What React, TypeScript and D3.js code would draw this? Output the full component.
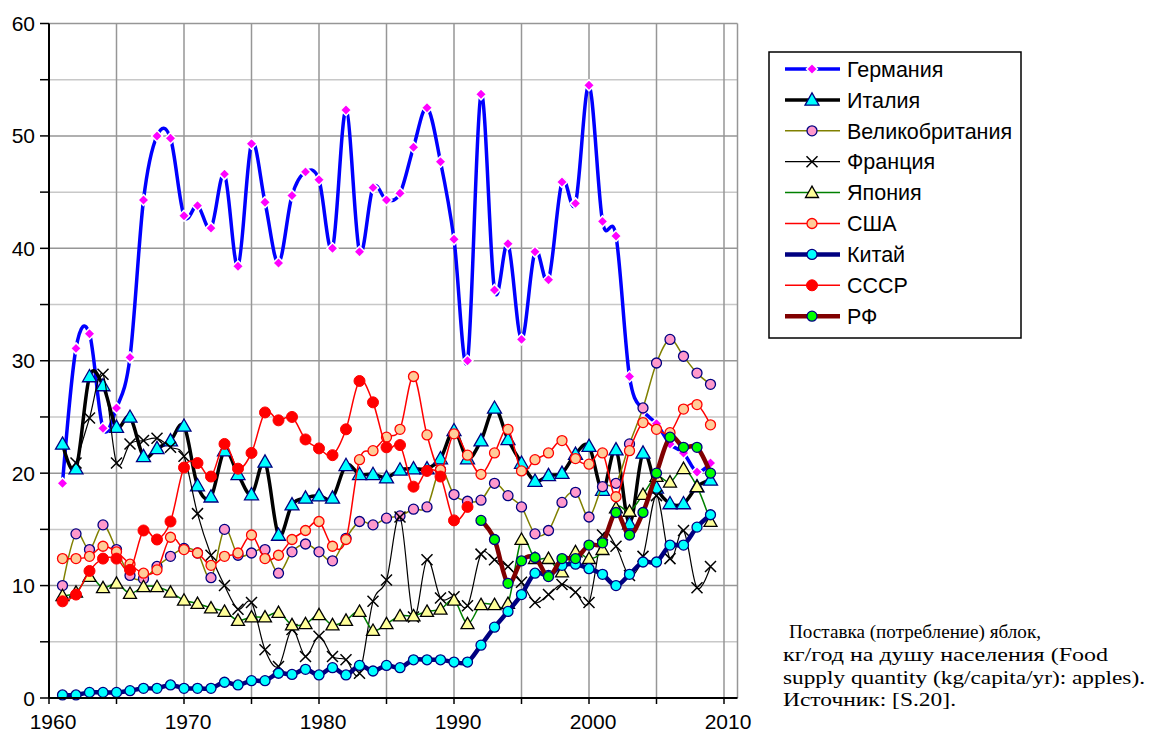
import React from "react";
import * as d3 from "d3";

const years: number[] = d3.range(1961, 2010);

const germany = [19.1, 31.1, 32.4, 24.0, 25.8, 30.3, 44.3, 50.0, 49.8, 42.9, 43.8, 41.8, 46.6, 38.4, 49.3, 44.1, 38.7, 44.7, 46.8, 46.1, 40.0, 52.3, 39.7, 45.4, 44.3, 44.9, 49.0, 52.5, 47.7, 40.8, 30.0, 53.7, 36.3, 40.4, 31.9, 39.7, 37.2, 45.9, 44.0, 54.5, 42.4, 41.1, 28.6, 25.6, 24.4, 22.6, 21.8, 20.1, 20.9];
const italy = [22.6, 20.4, 28.6, 27.8, 24.1, 25.0, 21.5, 22.2, 22.9, 24.2, 18.9, 17.9, 22.0, 19.9, 18.1, 21.0, 14.5, 17.2, 17.8, 18.0, 17.8, 20.7, 19.9, 19.9, 19.6, 20.3, 20.4, 20.4, 21.3, 23.8, 21.3, 22.9, 25.8, 23.0, 20.9, 19.3, 19.8, 20.0, 21.7, 22.4, 18.5, 22.1, 15.5, 21.8, 18.7, 17.3, 17.3, 18.8, 19.4];
const uk = [10.0, 14.6, 13.2, 15.4, 13.2, 10.9, 10.6, 11.7, 12.6, 13.3, 12.9, 10.7, 15.0, 12.7, 12.9, 13.2, 11.1, 13.0, 13.7, 13.0, 12.2, 14.2, 15.7, 15.4, 16.0, 16.2, 16.8, 17.0, 20.3, 18.1, 17.5, 17.6, 19.1, 18.0, 17.0, 14.6, 14.9, 17.4, 18.3, 16.1, 18.8, 19.1, 22.6, 25.8, 29.8, 31.9, 30.4, 28.9, 27.9];
const france = [null, 20.9, 24.9, 28.8, 20.9, 22.6, 22.9, 23.1, 22.3, 21.5, 16.4, 12.7, 10.0, 7.9, 8.5, 4.3, 2.8, 6.1, 3.7, 5.5, 3.7, 3.4, 2.2, 8.6, 10.5, 16.1, 7.2, 12.3, 8.9, 9.0, 8.2, 12.8, 12.3, 11.7, 10.3, 8.5, 9.2, 10.1, 9.4, 8.5, 14.5, 13.5, 10.9, 12.6, 18.0, 12.4, 14.9, 9.8, 11.7];
const japan = [9.1, 9.4, 10.8, 9.8, 10.2, 9.3, 9.9, 9.9, 9.4, 8.7, 8.4, 8.0, 7.7, 6.9, 7.2, 7.2, 7.6, 6.5, 6.6, 7.4, 6.5, 6.9, 7.7, 6.0, 6.6, 7.3, 7.3, 7.7, 7.9, 8.7, 6.6, 8.3, 8.3, 8.4, 14.1, 12.4, 12.4, 11.2, 13.0, 12.4, 13.2, 16.9, 16.6, 18.1, 19.7, 19.2, 20.4, 18.8, 15.7];
const usa = [12.4, 12.4, 12.6, 13.5, 13.0, 11.9, 11.1, 11.4, 14.3, 13.2, 12.9, 11.8, 12.6, 12.9, 14.5, 12.4, 12.7, 14.1, 14.9, 15.7, 13.5, 14.1, 21.2, 22.0, 23.2, 23.9, 28.6, 23.4, 20.3, 23.5, 21.6, 19.9, 21.8, 23.9, 20.2, 21.2, 21.8, 22.9, 21.3, 20.8, 21.8, 17.9, 22.0, 24.5, 23.9, 23.6, 25.7, 26.1, 24.3];
const china = [0.27, 0.27, 0.5, 0.5, 0.5, 0.65, 0.86, 0.86, 1.16, 0.86, 0.86, 0.86, 1.4, 1.16, 1.54, 1.54, 2.2, 2.1, 2.55, 2.05, 2.7, 2.05, 2.9, 2.4, 2.9, 2.7, 3.4, 3.4, 3.4, 3.2, 3.2, 4.7, 6.3, 7.7, 9.2, 11.1, 10.9, 11.8, 11.9, 11.5, 11.0, 10.0, 11.0, 12.1, 12.1, 13.6, 13.6, 15.2, 16.3];
const ussr = [8.6, 9.2, 11.3, 12.4, 12.4, 11.4, 14.9, 14.1, 15.7, 20.5, 20.9, 19.7, 22.6, 20.4, 21.8, 25.4, 24.7, 25.0, 23.0, 22.2, 21.6, 23.9, 28.2, 26.3, 22.3, 22.5, 18.8, 20.2, 19.7, 15.8, 17.0, null, null, null, null, null, null, null, null, null, null, null, null, null, null, null, null, null, null];
const rf = [null, null, null, null, null, null, null, null, null, null, null, null, null, null, null, null, null, null, null, null, null, null, null, null, null, null, null, null, null, null, null, 15.8, 14.1, 10.2, 12.2, 12.5, 10.8, 12.4, 12.4, 13.6, 13.8, 16.5, 14.5, 16.5, 20.0, 23.2, 22.3, 22.3, 20.0];

const seriesNames = ["Германия", "Италия", "Великобритания", "Франция", "Япония", "США", "Китай", "СССР", "РФ"];
const seriesValues = [germany, italy, uk, france, japan, usa, china, ussr, rf];

const yTicks = [0, 10, 20, 30, 40, 50, 60];
const xTicks = [1960, 1970, 1980, 1990, 2000, 2010];
const captionLines = ["Поставка (потребление) яблок,", "кг/год на душу населения (Food", "supply quantity (kg/capita/yr): apples).", "Источник: [S.20]."];
const captionWidths = [252, 325, 362, 173];
const captionX = [789, 783, 783, 783];

type Style = { stroke: string; width: number; marker: string; fill: string; mStroke: string; size: number; mWidth: number };
const styles: Style[] = [
  { stroke: "#0000ff", width: 3.5, marker: "diamond", fill: "#ff00ff", mStroke: "#ffffff", size: 5.5, mWidth: 1.5 },
  { stroke: "#000000", width: 3.5, marker: "triangle", fill: "#00ffff", mStroke: "#000080", size: 7, mWidth: 1.3 },
  { stroke: "#808000", width: 1.5, marker: "circle", fill: "#ff99cc", mStroke: "#000080", size: 5, mWidth: 1.3 },
  { stroke: "#000000", width: 1.2, marker: "x", fill: "none", mStroke: "#000000", size: 5.5, mWidth: 1.5 },
  { stroke: "#008000", width: 1.5, marker: "triangle", fill: "#ffff99", mStroke: "#000000", size: 6.5, mWidth: 1.3 },
  { stroke: "#ff0000", width: 1.5, marker: "circle", fill: "#ffcc99", mStroke: "#ff0000", size: 5, mWidth: 1.3 },
  { stroke: "#000080", width: 4.5, marker: "circle", fill: "#00ffff", mStroke: "#000080", size: 5, mWidth: 1.3 },
  { stroke: "#ff0000", width: 1.5, marker: "circle", fill: "#ff0000", mStroke: "#ff0000", size: 5.5, mWidth: 1 },
  { stroke: "#800000", width: 4.5, marker: "circle", fill: "#00ff00", mStroke: "#000080", size: 5, mWidth: 1.3 },
];

const FONT = "'Liberation Sans', Arial, sans-serif";

function Marker({ cx, cy, s }: { cx: number; cy: number; s: Style }) {
  const r = s.size;
  if (s.marker === "circle") return <circle cx={cx} cy={cy} r={r} fill={s.fill} stroke={s.mStroke} strokeWidth={s.mWidth} />;
  if (s.marker === "diamond")
    return <path d={`M${cx},${cy - r}L${cx + r},${cy}L${cx},${cy + r}L${cx - r},${cy}Z`} fill={s.fill} stroke={s.mStroke} strokeWidth={s.mWidth} />;
  if (s.marker === "triangle")
    return <path d={`M${cx},${cy - r}L${cx + r},${cy + r * 0.75}L${cx - r},${cy + r * 0.75}Z`} fill={s.fill} stroke={s.mStroke} strokeWidth={s.mWidth} />;
  return <path d={`M${cx - r},${cy - r}L${cx + r},${cy + r}M${cx + r},${cy - r}L${cx - r},${cy + r}`} stroke={s.mStroke} strokeWidth={s.mWidth} fill="none" />;
}

export default function App() {
  const x = d3.scaleLinear().domain([1960, 2011]).range([49, 737.5]);
  const y = d3.scaleLinear().domain([0, 60]).range([698, 23.5]);
  const line = d3
    .line<number | null>()
    .defined((d) => d != null)
    .x((_, i) => x(years[i]))
    .y((d) => y(d as number))
    .curve(d3.curveCardinal.tension(0));

  const hGrid = d3.range(5, 61, 5);
  const vGrid = d3.range(1965, 2011, 5);
  const minorY = d3.range(0, 61, 5);
  const xMinor = d3.range(1960, 2011, 5);

  const legendX = 769, legendY = 52, legendW = 252, legendH = 286;
  const legendRow = (i: number) => 69 + i * 30.9;

  return (
    <svg width={1157} height={735} style={{ position: "absolute", left: 0, top: 0, background: "#fff" }} fontFamily={FONT}>
      <rect x={0} y={0} width={1157} height={735} fill="#fff" />
      {hGrid.map((v) => (
        <line key={"h" + v} x1={x(1960)} x2={x(2011)} y1={y(v)} y2={y(v)} stroke={v % 10 === 0 ? "#969696" : "#c8c8c8"} strokeWidth={1.5} />
      ))}
      {vGrid.map((v) => (
        <line key={"v" + v} x1={x(v)} x2={x(v)} y1={y(0)} y2={y(60)} stroke="#969696" strokeWidth={1.5} />
      ))}
      <line x1={x(2011)} x2={x(2011)} y1={y(0)} y2={y(60)} stroke="#969696" strokeWidth={1.5} />

      {seriesValues.map((vals, si) => (
        <g key={"s" + si}>
          <path d={line(vals as (number | null)[]) || ""} fill="none" stroke={styles[si].stroke} strokeWidth={styles[si].width} strokeLinejoin="round" />
          {vals.map((v, i) => (v == null ? null : <Marker key={i} cx={x(years[i])} cy={y(v)} s={styles[si]} />))}
        </g>
      ))}

      {/* axes */}
      <line x1={x(1960)} x2={x(1960)} y1={y(0)} y2={y(60)} stroke="#000" strokeWidth={2} />
      <line x1={x(1960)} x2={x(2011)} y1={y(0)} y2={y(0)} stroke="#000" strokeWidth={2} />
      {minorY.map((v) => (
        <line key={"yt" + v} x1={x(1960) - 9} x2={x(1960)} y1={y(v)} y2={y(v)} stroke="#000" strokeWidth={1.5} />
      ))}
      {xMinor.map((v) => (
        <line key={"xt" + v} x1={x(v)} x2={x(v)} y1={y(0)} y2={y(0) + 6} stroke="#000" strokeWidth={1.5} />
      ))}
      {yTicks.map((v) => (
        <text key={"yl" + v} x={35} y={y(v)} dy="0.36em" textAnchor="end" fontSize={21} fill="#000">
          {v}
        </text>
      ))}
      {xTicks.map((v) => (
        <text key={"xl" + v} x={x(v) + 4} y={729} textAnchor="middle" fontSize={21} fill="#000">
          {v}
        </text>
      ))}

      {/* legend */}
      <rect x={legendX} y={legendY} width={legendW} height={legendH} fill="#fff" stroke="#000" strokeWidth={1.5} />
      {seriesNames.map((name, i) => {
        const ly = legendRow(i);
        return (
          <g key={"lg" + i}>
            <line x1={785} x2={840} y1={ly} y2={ly} stroke={styles[i].stroke} strokeWidth={styles[i].width} />
            <Marker cx={812} cy={ly} s={styles[i]} />
            <text x={847} y={ly} dy="0.36em" fontSize={21.5} fill="#000">
              {name}
            </text>
          </g>
        );
      })}

      {/* caption */}
      {captionLines.map((t, i) => (
        <text
          key={"c" + i}
          x={captionX[i]}
          y={638 + i * 22.8}
          fontSize={19.5}
          fontFamily="'Liberation Serif', 'Times New Roman', serif"
          fill="#000"
          textLength={captionWidths[i]}
          lengthAdjust="spacingAndGlyphs"
        >
          {t}
        </text>
      ))}
    </svg>
  );
}
